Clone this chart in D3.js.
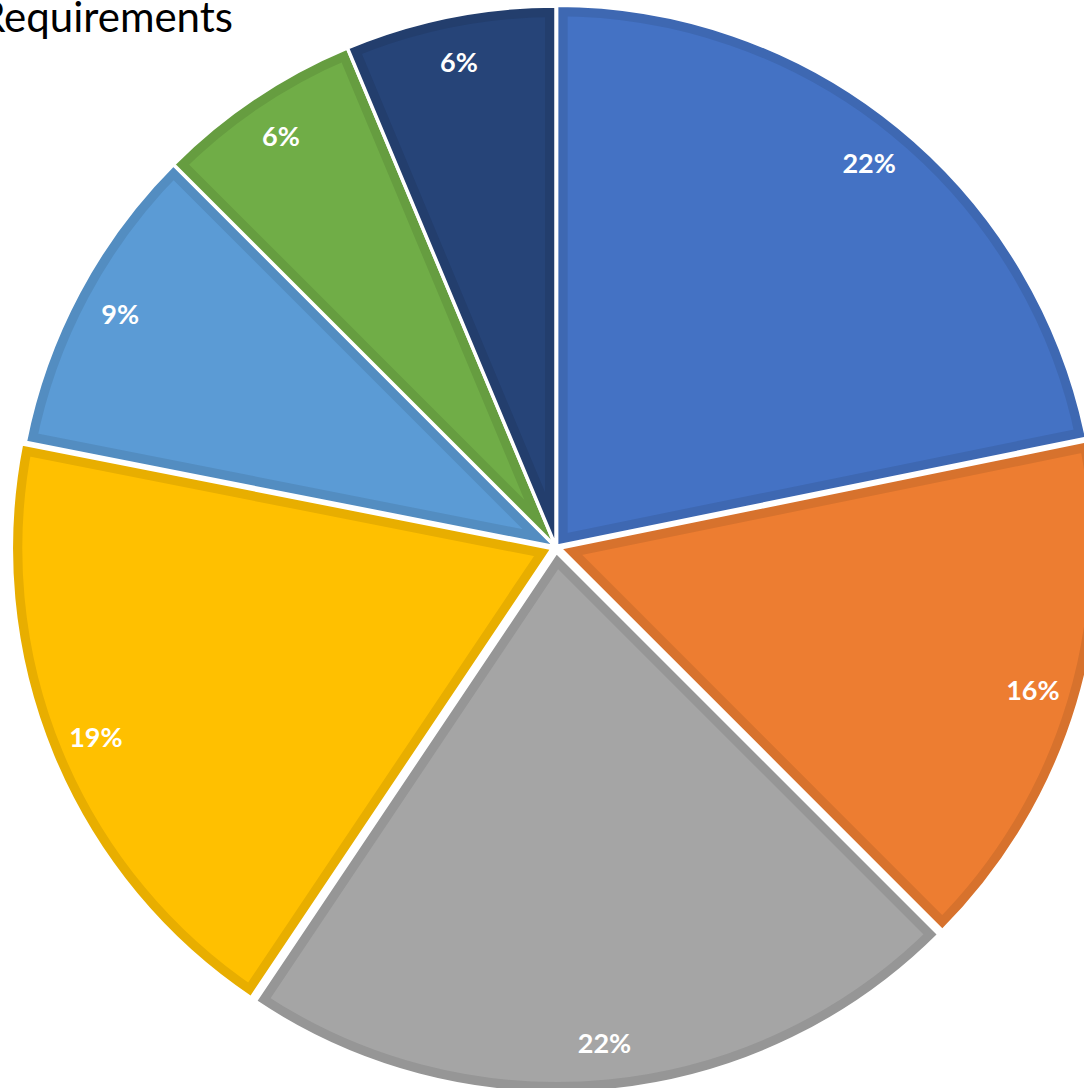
<!DOCTYPE html>
<html lang="en">
<head>
    <meta charset="UTF-8">
    <title>Requirements</title>
    <style>
        body { margin: 0; background: #ffffff; overflow: hidden; }
        svg { display: block; }
    </style>
    <script src="https://d3js.org/d3.v7.min.js"></script>
</head>
<body>
    <svg width="1084" height="1088"></svg>
    <script>
        // slice values (percent), clockwise from 12 o'clock
        const categories = ["Slice 1", "Slice 2", "Slice 3", "Slice 4", "Slice 5", "Slice 6", "Slice 7"];
        const values = [21.8, 15.7, 21.9, 18.7, 9.4, 6.2, 6.3];
        const colors = ["#4472C4", "#ED7D31", "#A5A5A5", "#FFC000", "#5B9BD5", "#70AD47", "#264478"];
        const explode = [1, 4, 5, 4, 0, 0, 0];

        const svg = d3.select("svg");
        const cx = 556, cy = 547, radius = 541;

        const pie = d3.pie().sort(null).value(d => d.value);
        const arc = d3.arc().innerRadius(0).outerRadius(radius);
        const labelArc = d3.arc().innerRadius(494).outerRadius(494);

        const data = categories.map((c, i) => ({ name: c, value: values[i], color: colors[i], off: explode[i] }));
        const arcs = pie(data);
        const total = d3.sum(values);

        const defs = svg.append("defs");
        const root = svg.append("g").attr("transform", `translate(${cx},${cy})`);

        const slices = root.selectAll("g.slice")
            .data(arcs)
            .join("g")
            .attr("class", "slice")
            .attr("transform", d => {
                const a = (d.startAngle + d.endAngle) / 2;
                return `translate(${Math.sin(a) * d.data.off},${-Math.cos(a) * d.data.off})`;
            });

        slices.each(function(d, i) {
            defs.append("clipPath").attr("id", "clip" + i)
                .append("path").attr("d", arc(d));
        });

        // fill with darker inner border
        slices.append("path")
            .attr("d", arc)
            .attr("fill", d => d.data.color)
            .attr("stroke", d => d3.color(d.data.color).darker(0.27))
            .attr("stroke-width", 22)
            .attr("clip-path", (d, i) => `url(#clip${i})`);

        // white separators
        slices.append("path")
            .attr("d", arc)
            .attr("fill", "none")
            .attr("stroke", "#ffffff")
            .attr("stroke-width", 3.5)
            .attr("stroke-linejoin", "miter");

        slices.append("text")
            .attr("transform", d => `translate(${labelArc.centroid(d)})`)
            .attr("text-anchor", "middle")
            .attr("dy", "0.35em")
            .attr("fill", "#ffffff")
            .attr("font-family", "Lato, 'Open Sans', sans-serif")
            .attr("font-weight", "bold")
            .attr("font-size", 27)
            .text(d => Math.round(d.value / total * 100) + "%");

        // title (its first letter runs off the left edge, as in the source)
        svg.append("text")
            .attr("x", 233)
            .attr("y", 32)
            .attr("text-anchor", "end")
            .attr("font-family", "Lato, 'Open Sans', sans-serif")
            .attr("font-size", 42)
            .attr("fill", "#000000")
            .text("Requirements");
    </script>
</body>
</html>
